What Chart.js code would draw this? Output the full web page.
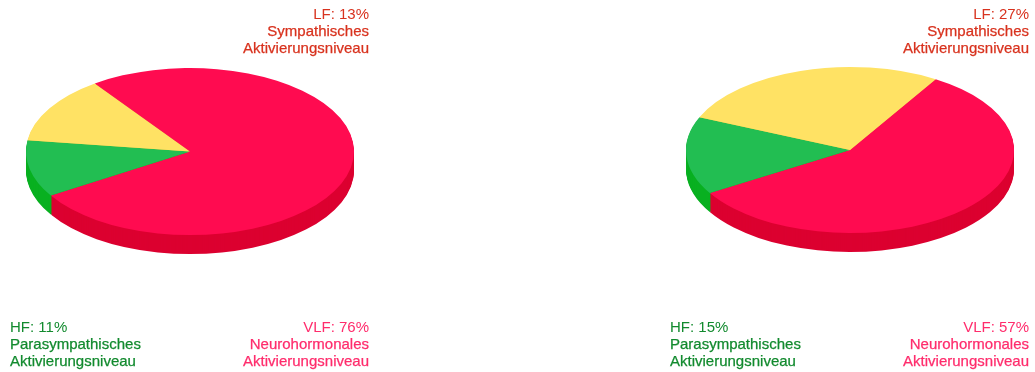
<!DOCTYPE html>
<html><head><meta charset="utf-8">
<style>
html,body{margin:0;padding:0;background:#fff;width:1035px;height:372px;overflow:hidden}
canvas{position:absolute;top:0}
</style>
<script src="https://cdn.jsdelivr.net/npm/chart.js@4/dist/chart.umd.js"></script>
</head><body>
<canvas id="a" style="left:0"></canvas>
<canvas id="b" style="left:517px"></canvas>
<script>
const categories = ['VLF', 'HF', 'LF'];
const leftValues = [76, 11, 13];
const rightValues = [57, 15, 27];
const descriptionLine1 = ['Neurohormonales', 'Parasympathisches', 'Sympathisches'];
const descriptionLine2 = ['Aktivierungsniveau', 'Aktivierungsniveau', 'Aktivierungsniveau'];
const topColors = ['#FF0B50', '#22BE52', '#FFE264'];
const sideColors = ['#DC0030', '#08B020', '#E0C040'];
const textColors = ['#FF2C6C', '#128A2E', '#D8321E'];

const FONT = '15px "Liberation Sans", Arial, sans-serif';
const LINE = 17;

function pie3d(id, values, rotation, geo) {
  const squash = {
    id: 'squash',
    beforeDatasetsDraw(chart) {
      const ctx = chart.ctx, arcs = chart.getDatasetMeta(0).data;
      const r = arcs[0].outerRadius, x0 = arcs[0].x, y0 = arcs[0].y;
      const place = (dy) => {
        ctx.setTransform(geo.rx / r, 0, 0, geo.ry / r, geo.cx - x0 * geo.rx / r, geo.cy + dy - y0 * geo.ry / r);
      };
      ctx.save();
      for (let d = geo.depth; d >= 1; d--) {
        place(d);
        arcs.forEach((arc, i) => {
          const wall = Object.create(arc);
          wall.options = Object.assign({}, arc.options, { backgroundColor: sideColors[i], borderWidth: 0 });
          wall.draw(ctx);
        });
      }
      place(0);
    },
    afterDatasetsDraw(chart) {
      chart.ctx.restore();
    },
    afterDraw(chart) {
      const ctx = chart.ctx;
      ctx.save();
      ctx.font = FONT;
      ctx.textBaseline = 'middle';
      ctx.lineWidth = 0.25;
      geo.labels.forEach(l => {
        const i = l.index;
        ctx.fillStyle = textColors[i];
        ctx.strokeStyle = textColors[i];
        ctx.textAlign = l.align;
        [categories[i] + ': ' + values[i] + '%', descriptionLine1[i], descriptionLine2[i]].forEach((t, k) => {
          ctx.fillText(t, l.x, l.y + k * LINE);
          if (k > 0) ctx.strokeText(t, l.x, l.y + k * LINE);
        });
      });
      ctx.restore();
    }
  };
  return new Chart(document.getElementById(id), {
    type: 'pie',
    data: {
      labels: categories,
      datasets: [{ data: values, backgroundColor: topColors, borderWidth: 0, clip: false }]
    },
    options: {
      responsive: false,
      animation: false,
      rotation: rotation,
      layout: { padding: 0 },
      plugins: { legend: { display: false }, tooltip: { enabled: false } }
    },
    plugins: [squash]
  });
}

for (const [id, w] of [['a', 517], ['b', 518]]) {
  const c = document.getElementById(id);
  c.width = w; c.height = 372;
  c.style.width = w + 'px'; c.style.height = '372px';
}

pie3d('a', leftValues, 324.5, {
  cx: 190, cy: 151.5, rx: 164, ry: 83.5, depth: 19,
  labels: [
    { index: 2, x: 369, y: 15, align: 'right' },
    { index: 1, x: 10, y: 328, align: 'left' },
    { index: 0, x: 369, y: 328, align: 'right' }
  ]
});
pie3d('b', rightValues, 31.5, {
  cx: 333, cy: 150, rx: 164, ry: 83, depth: 19,
  labels: [
    { index: 2, x: 512, y: 15, align: 'right' },
    { index: 1, x: 153, y: 328, align: 'left' },
    { index: 0, x: 512, y: 328, align: 'right' }
  ]
});
</script>
</body></html>
